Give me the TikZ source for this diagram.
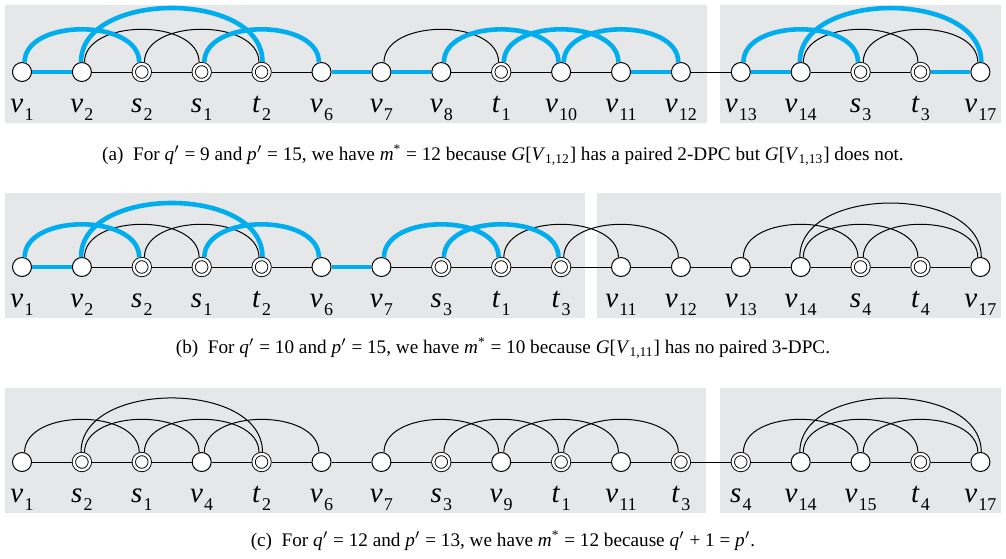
\documentclass[tikz,border=0pt]{standalone}
\usepackage{fontspec}
\setmainfont{Liberation Serif}
\usepackage{xcolor}
\usepackage{tikz}
\usetikzlibrary{positioning}

\definecolor{panelgray}{RGB}{230,231,233}
\definecolor{dpcblue}{RGB}{0,174,239}

\newcommand{\nlab}[2]{\textit{#1}\kern0.6pt\raisebox{-4pt}{\fontsize{9}{9}\selectfont #2}}

\tikzset{
  vert/.style={draw, circle, fill=white, minimum size=9.5pt, inner sep=0pt, line width=0.5pt},
  term/.style={draw, circle, fill=white, double=white, double distance=1.2pt, minimum size=8pt, inner sep=0pt, line width=0.45pt, outer sep=1.05pt},
  nl/.style={inner sep=0pt, text height=10pt, text depth=3pt, label distance=5pt, font=\fontsize{14.5}{16}\selectfont},
  edge/.style={line width=0.5pt},
  dpc/.style={draw=dpcblue, line width=2.3pt},
  caption/.style={font=\fontsize{9.6}{11}\selectfont}
}

\begin{document}
\begin{tikzpicture}[x=0.5pt, y=-0.5pt, node distance=29.95pt]
    \useasboundingbox (0,0) rectangle (1006,558);
    % panels
    \fill[panelgray] (5,5) rectangle (707,123);
    \fill[panelgray] (720,5) rectangle (1001,123);
    \fill[panelgray] (5,193) rectangle (585,318);
    \fill[panelgray] (597,193) rectangle (1001,318);
    \fill[panelgray] (5,388) rectangle (706,513);
    \fill[panelgray] (720,388) rectangle (1001,513);

    % (a)
    \node (av1) [vert, label={[nl]below:\nlab{v}{1}}] at (22,72) {};
    \node (av2) [vert, right of=av1, label={[nl]below:\nlab{v}{2}}] {};
    \node (as2) [term, right of=av2, label={[nl]below:\nlab{s}{2}}] {};
    \node (as1) [term, right of=as2, label={[nl]below:\nlab{s}{1}}] {};
    \node (at2) [term, right of=as1, label={[nl]below:\nlab{t}{2}}] {};
    \node (av6) [vert, right of=at2, label={[nl]below:\nlab{v}{6}}] {};
    \node (av7) [vert, right of=av6, label={[nl]below:\nlab{v}{7}}] {};
    \node (av8) [vert, right of=av7, label={[nl]below:\nlab{v}{8}}] {};
    \node (at1) [term, right of=av8, label={[nl]below:\nlab{t}{1}}] {};
    \node (av10) [vert, right of=at1, label={[nl]below:\nlab{v}{10}}] {};
    \node (av11) [vert, right of=av10, label={[nl]below:\nlab{v}{11}}] {};
    \node (av12) [vert, right of=av11, label={[nl]below:\nlab{v}{12}}] {};
    \node (av13) [vert, right of=av12, label={[nl]below:\nlab{v}{13}}] {};
    \node (av14) [vert, right of=av13, label={[nl]below:\nlab{v}{14}}] {};
    \node (as3) [term, right of=av14, label={[nl]below:\nlab{s}{3}}] {};
    \node (at3) [term, right of=as3, label={[nl]below:\nlab{t}{3}}] {};
    \node (av17) [vert, right of=at3, label={[nl]below:\nlab{v}{17}}] {};

    \draw[dpc] (av1) -- (av2);
    \draw[edge] (av2) -- (as2) -- (as1) -- (at2) -- (av6);
    \draw[dpc] (av6) -- (av7) -- (av8);
    \draw[edge] (av8) -- (at1) -- (av10) -- (av11);
    \draw[dpc] (av11) -- (av12);
    \draw[edge] (av12) -- (av13);
    \draw[dpc] (av13) -- (av14);
    \draw[edge] (av14) -- (as3) -- (at3);
    \draw[dpc] (at3) -- (av17);

    \draw[edge] (av2.75) .. controls +(0,-44) and +(0,-44) .. (as1.105);
    \draw[edge] (as2.75) .. controls +(0,-44) and +(0,-44) .. (at2.105);
    \draw[edge] (av7.75) .. controls +(0,-44) and +(0,-44) .. (at1.105);
    \draw[edge] (av14.75) .. controls +(0,-44) and +(0,-44) .. (at3.105);
    \draw[edge] (as3.75) .. controls +(0,-44) and +(0,-44) .. (av17.105);
    \draw[dpc] (av1.75) .. controls +(0,-44) and +(0,-44) .. (as2.105);
    \draw[dpc] (av2.95) .. controls +(0,-72) and +(0,-72) .. (at2.85);
    \draw[dpc] (as1.75) .. controls +(0,-44) and +(0,-44) .. (av6.105);
    \draw[dpc] (av8.75) .. controls +(0,-44) and +(0,-44) .. (av10.105);
    \draw[dpc] (at1.75) .. controls +(0,-44) and +(0,-44) .. (av11.105);
    \draw[dpc] (av10.75) .. controls +(0,-44) and +(0,-44) .. (av12.105);
    \draw[dpc] (av13.75) .. controls +(0,-44) and +(0,-44) .. (as3.105);
    \draw[dpc] (av14.95) .. controls +(0,-72) and +(0,-72) .. (av17.85);

    \node (cap_a) [caption] at (503,155) {(a)\enspace For \textit{q}$'$ = 9 and \textit{p}$'$ = 15, we have \textit{m}\textsuperscript{*} = 12 because \textit{G}[\textit{V}\textsubscript{1,12}] has a paired 2-DPC but \textit{G}[\textit{V}\textsubscript{1,13}] does not.};

    % (b)
    \node (bv1) [vert, label={[nl]below:\nlab{v}{1}}] at (22,267) {};
    \node (bv2) [vert, right of=bv1, label={[nl]below:\nlab{v}{2}}] {};
    \node (bs2) [term, right of=bv2, label={[nl]below:\nlab{s}{2}}] {};
    \node (bs1) [term, right of=bs2, label={[nl]below:\nlab{s}{1}}] {};
    \node (bt2) [term, right of=bs1, label={[nl]below:\nlab{t}{2}}] {};
    \node (bv6) [vert, right of=bt2, label={[nl]below:\nlab{v}{6}}] {};
    \node (bv7) [vert, right of=bv6, label={[nl]below:\nlab{v}{7}}] {};
    \node (bs3) [term, right of=bv7, label={[nl]below:\nlab{s}{3}}] {};
    \node (bt1) [term, right of=bs3, label={[nl]below:\nlab{t}{1}}] {};
    \node (bt3) [term, right of=bt1, label={[nl]below:\nlab{t}{3}}] {};
    \node (bv11) [vert, right of=bt3, label={[nl]below:\nlab{v}{11}}] {};
    \node (bv12) [vert, right of=bv11, label={[nl]below:\nlab{v}{12}}] {};
    \node (bv13) [vert, right of=bv12, label={[nl]below:\nlab{v}{13}}] {};
    \node (bv14) [vert, right of=bv13, label={[nl]below:\nlab{v}{14}}] {};
    \node (bs4) [term, right of=bv14, label={[nl]below:\nlab{s}{4}}] {};
    \node (bt4) [term, right of=bs4, label={[nl]below:\nlab{t}{4}}] {};
    \node (bv17) [vert, right of=bt4, label={[nl]below:\nlab{v}{17}}] {};

    \draw[dpc] (bv1) -- (bv2);
    \draw[edge] (bv2) -- (bs2) -- (bs1) -- (bt2) -- (bv6);
    \draw[dpc] (bv6) -- (bv7);
    \draw[edge] (bv7) -- (bs3) -- (bt1) -- (bt3) -- (bv11) -- (bv12) -- (bv13) -- (bv14) -- (bs4) -- (bt4) -- (bv17);

    \draw[edge] (bv2.75) .. controls +(0,-44) and +(0,-44) .. (bs1.105);
    \draw[edge] (bs2.75) .. controls +(0,-44) and +(0,-44) .. (bt2.105);
    \draw[edge] (bt1.75) .. controls +(0,-44) and +(0,-44) .. (bv11.105);
    \draw[edge] (bt3.75) .. controls +(0,-44) and +(0,-44) .. (bv12.105);
    \draw[edge] (bv13.75) .. controls +(0,-44) and +(0,-44) .. (bs4.105);
    \draw[edge] (bv14.75) .. controls +(0,-44) and +(0,-44) .. (bt4.105);
    \draw[edge] (bs4.75) .. controls +(0,-44) and +(0,-44) .. (bv17.105);
    \draw[edge] (bv14.95) .. controls +(0,-72) and +(0,-72) .. (bv17.85);
    \draw[dpc] (bv1.75) .. controls +(0,-44) and +(0,-44) .. (bs2.105);
    \draw[dpc] (bv2.95) .. controls +(0,-72) and +(0,-72) .. (bt2.85);
    \draw[dpc] (bs1.75) .. controls +(0,-44) and +(0,-44) .. (bv6.105);
    \draw[dpc] (bv7.75) .. controls +(0,-44) and +(0,-44) .. (bt1.105);
    \draw[dpc] (bs3.75) .. controls +(0,-44) and +(0,-44) .. (bt3.105);

    \node (cap_b) [caption] at (503,348) {(b)\enspace For \textit{q}$'$ = 10 and \textit{p}$'$ = 15, we have \textit{m}\textsuperscript{*} = 10 because \textit{G}[\textit{V}\textsubscript{1,11}] has no paired 3-DPC.};

    % (c)
    \node (cv1) [vert, label={[nl]below:\nlab{v}{1}}] at (22,462) {};
    \node (cs2) [term, right of=cv1, label={[nl]below:\nlab{s}{2}}] {};
    \node (cs1) [term, right of=cs2, label={[nl]below:\nlab{s}{1}}] {};
    \node (cv4) [vert, right of=cs1, label={[nl]below:\nlab{v}{4}}] {};
    \node (ct2) [term, right of=cv4, label={[nl]below:\nlab{t}{2}}] {};
    \node (cv6) [vert, right of=ct2, label={[nl]below:\nlab{v}{6}}] {};
    \node (cv7) [vert, right of=cv6, label={[nl]below:\nlab{v}{7}}] {};
    \node (cs3) [term, right of=cv7, label={[nl]below:\nlab{s}{3}}] {};
    \node (cv9) [vert, right of=cs3, label={[nl]below:\nlab{v}{9}}] {};
    \node (ct1) [term, right of=cv9, label={[nl]below:\nlab{t}{1}}] {};
    \node (cv11) [vert, right of=ct1, label={[nl]below:\nlab{v}{11}}] {};
    \node (ct3) [term, right of=cv11, label={[nl]below:\nlab{t}{3}}] {};
    \node (cs4) [term, right of=ct3, label={[nl]below:\nlab{s}{4}}] {};
    \node (cv14) [vert, right of=cs4, label={[nl]below:\nlab{v}{14}}] {};
    \node (cv15) [vert, right of=cv14, label={[nl]below:\nlab{v}{15}}] {};
    \node (ct4) [term, right of=cv15, label={[nl]below:\nlab{t}{4}}] {};
    \node (cv17) [vert, right of=ct4, label={[nl]below:\nlab{v}{17}}] {};

    \draw[edge] (cv1) -- (cs2) -- (cs1) -- (cv4) -- (ct2) -- (cv6) -- (cv7) -- (cs3) -- (cv9) -- (ct1) -- (cv11) -- (ct3) -- (cs4) -- (cv14) -- (cv15) -- (ct4) -- (cv17);

    \draw[edge] (cv1.75) .. controls +(0,-44) and +(0,-44) .. (cs1.105);
    \draw[edge] (cs2.75) .. controls +(0,-44) and +(0,-44) .. (cv4.105);
    \draw[edge] (cs1.75) .. controls +(0,-44) and +(0,-44) .. (ct2.105);
    \draw[edge] (cv4.75) .. controls +(0,-44) and +(0,-44) .. (cv6.105);
    \draw[edge] (cs2.95) .. controls +(0,-72) and +(0,-72) .. (ct2.85);
    \draw[edge] (cv7.75) .. controls +(0,-44) and +(0,-44) .. (cv9.105);
    \draw[edge] (cs3.75) .. controls +(0,-44) and +(0,-44) .. (ct1.105);
    \draw[edge] (cv9.75) .. controls +(0,-44) and +(0,-44) .. (cv11.105);
    \draw[edge] (ct1.75) .. controls +(0,-44) and +(0,-44) .. (ct3.105);
    \draw[edge] (cs4.75) .. controls +(0,-44) and +(0,-44) .. (cv15.105);
    \draw[edge] (cv14.75) .. controls +(0,-44) and +(0,-44) .. (ct4.105);
    \draw[edge] (cv15.75) .. controls +(0,-44) and +(0,-44) .. (cv17.105);
    \draw[edge] (cv14.95) .. controls +(0,-72) and +(0,-72) .. (cv17.85);

    \node (cap_c) [caption] at (503,541) {(c)\enspace For \textit{q}$'$ = 12 and \textit{p}$'$ = 13, we have \textit{m}\textsuperscript{*} = 12 because \textit{q}$'$ + 1 = \textit{p}$'$.};
\end{tikzpicture}
\end{document}
